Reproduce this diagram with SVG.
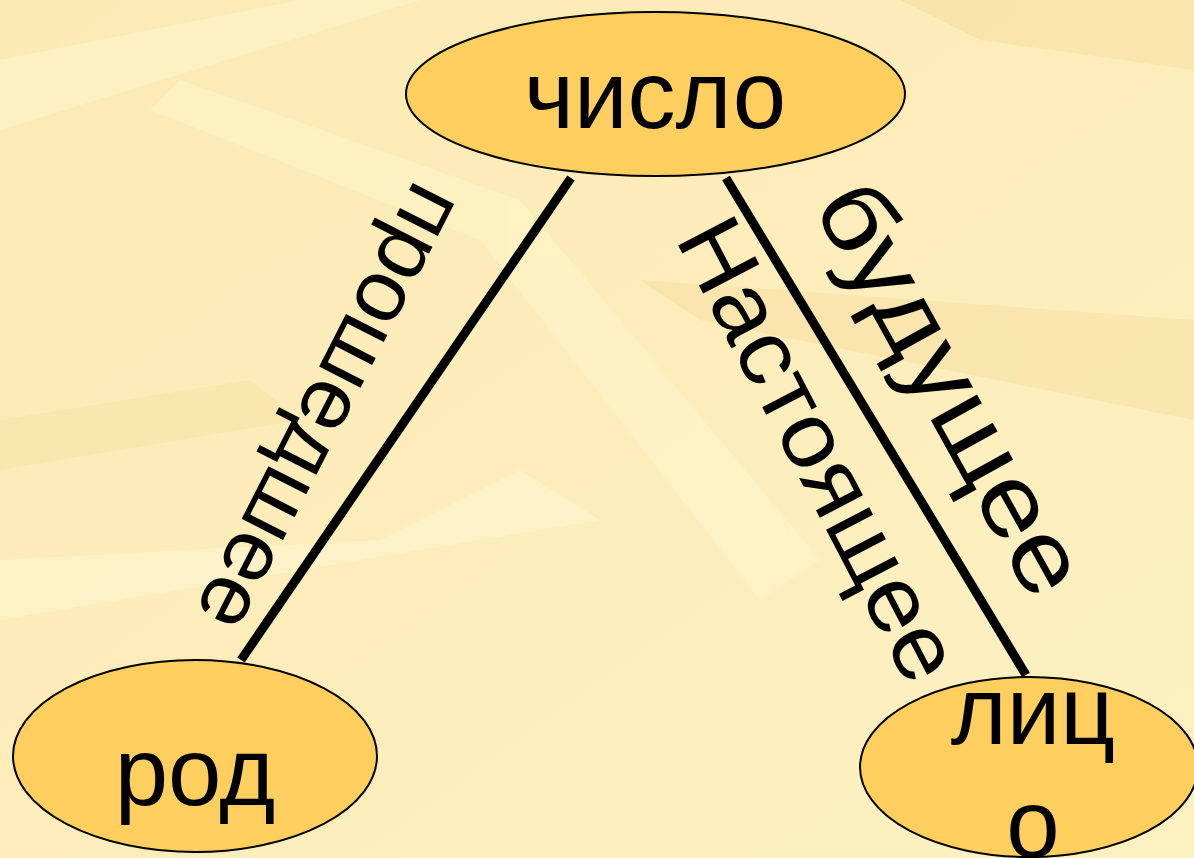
<svg xmlns="http://www.w3.org/2000/svg" width="1194" height="858" viewBox="0 0 1194 858">
<defs>
<linearGradient id="bg" x1="0" y1="0" x2="1" y2="1">
<stop offset="0" stop-color="#FBEAB4"/>
<stop offset="0.5" stop-color="#FCEDBB"/>
<stop offset="1" stop-color="#FDF1C2"/>
</linearGradient>
<style>
.node ellipse{fill:#FECF5E;stroke:#000;stroke-width:2}
.node text{font-family:"Liberation Sans",Arial,sans-serif;font-size:96px;fill:#000;text-anchor:middle}
.lbl{font-family:"Liberation Sans",Arial,sans-serif;fill:#000;text-anchor:start}
.conn line{stroke:#000;stroke-width:9;stroke-linecap:butt}
</style>
</defs>
<rect width="1194" height="858" fill="url(#bg)"/>
<g id="texture" opacity="0.5">
<polygon points="0,60 300,0 420,0 0,130" fill="#FFF8D2"/>
<polygon points="180,80 520,200 820,560 760,600 480,240 150,110" fill="#FFF6CC"/>
<polygon points="0,560 380,540 520,470 600,520 0,620" fill="#FFF8D4"/>
<polygon points="900,0 1194,0 1194,70 980,40" fill="#F8DFA0"/>
<polygon points="640,280 1194,320 1194,420 700,320" fill="#F7DEA0"/>
<polygon points="0,420 250,380 300,420 0,470" fill="#F9E3A8"/>
</g>
<g id="connectors" class="conn">
<line x1="571" y1="178" x2="241" y2="660"/>
<line x1="726" y1="178" x2="1026" y2="675"/>
</g>
<g id="label-past"><text class="lbl" font-size="88" textLength="488" lengthAdjust="spacingAndGlyphs" transform="translate(415.6,177.6) rotate(117)">прошедшее</text></g>
<g id="label-present"><text class="lbl" font-size="92" textLength="508" lengthAdjust="spacingAndGlyphs" transform="translate(674.5,238.4) rotate(62.5)">Настоящее</text></g>
<g id="label-future"><text class="lbl" font-size="100" textLength="456" lengthAdjust="spacingAndGlyphs" transform="translate(811.5,205) rotate(61)">будущее</text></g>
<g id="node-chislo" class="node">
<ellipse cx="655.5" cy="94" rx="249.5" ry="82"/>
<text x="655" y="128">число</text>
</g>
<g id="node-rod" class="node">
<ellipse cx="195" cy="756" rx="182" ry="96"/>
<text x="195" y="805">род</text>
</g>
<g id="node-litso" class="node">
<ellipse cx="1029" cy="767" rx="169" ry="90"/>
<text x="1033" y="744">лиц</text>
<text x="1033" y="857">о</text>
</g>
</svg>
